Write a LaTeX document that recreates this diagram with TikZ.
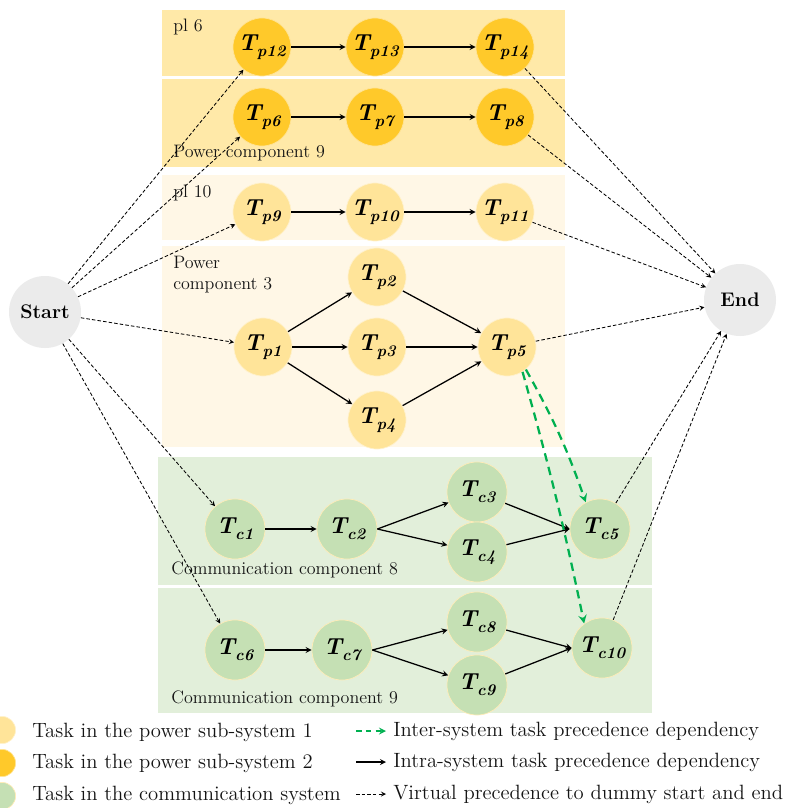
\documentclass[tikz,border=0pt]{standalone}
\usepackage{fontspec}
\usepackage{tikz}
\usepackage{xcolor}
\usetikzlibrary{positioning, arrows}

\definecolor{goldnode}{HTML}{FFC92A}
\definecolor{lightnode}{HTML}{FFE499}
\definecolor{greennode}{HTML}{C5E0B4}
\definecolor{dummygrey}{HTML}{EBEBEB}
\definecolor{boxdark}{HTML}{FFE9A8}
\definecolor{boxlight}{HTML}{FFF7E6}
\definecolor{boxgreen}{HTML}{E2EFDA}
\definecolor{interarrow}{HTML}{00B050}
\definecolor{textdark}{HTML}{141414}

% task label: bold italic T with subscript
\newcommand{\tlabel}[2]{{\fontsize{16.5}{18}\selectfont\bfseries\itshape T\raisebox{-4.5pt}{\fontsize{11.5}{12}\selectfont #1#2}}}

\begin{document}
\begin{tikzpicture}[
            x=0.025cm, y=-0.025cm,
            psys1/.style={circle, fill=lightnode, draw=lightnode!50!white, line width=0.5pt, minimum size=1.45cm, inner sep=0pt},
            psys2/.style={circle, fill=goldnode, draw=goldnode!50!white, line width=0.5pt, minimum size=1.45cm, inner sep=0pt},
            csys/.style={circle, fill=greennode, draw=lightnode!70!white, line width=0.5pt, minimum size=1.5cm, inner sep=0pt},
            dummy/.style={circle, fill=dummygrey, minimum size=1.8cm, inner sep=0pt, font=\fontsize{14}{15}\selectfont\bfseries},
            intra/.style={-stealth, line width=0.9pt},
            virtual/.style={-stealth, line width=0.6pt, dash pattern=on 2.5pt off 1.5pt},
            inter/.style={-stealth, interarrow, line width=1.6pt, dash pattern=on 6pt off 4pt},
            boxlabel/.style={anchor=west, inner sep=0pt, text=textdark, font=\fontsize{12.8}{15}\selectfont},
            legendtext/.style={anchor=west, inner sep=0pt, text=textdark, font=\fontsize{14.7}{16}\selectfont},
        ]
            \useasboundingbox (0,0) rectangle (788,808);

            % component boxes
            \fill[boxdark] (162,10) rectangle (565,76);
            \fill[boxdark] (162,79) rectangle (565,167);
            \fill[boxlight] (162,175) rectangle (565,240);
            \fill[boxlight] (162,246) rectangle (565,447);
            \fill[boxgreen] (158,457) rectangle (652,585);
            \fill[boxgreen] (158,588) rectangle (652,713);

            \node[boxlabel] (lbl6) at (173,27) {pl 6};
            \node[boxlabel] (lbl9) at (173,153) {Power component 9};
            \node[boxlabel] (lbl10) at (173,193) {pl 10};
            \node[boxlabel, align=left] (lbl3) at (173,275) {Power\\component 3};
            \node[boxlabel] (lblc8) at (171,570) {Communication component 8};
            \node[boxlabel] (lblc9) at (171,699) {Communication component 9};

            % dummy start and end
            \node[dummy] (start) at (45,312) {Start};
            \node[dummy] (end) at (740,300) {End};

            % power sub-system 2
            \node[psys2] (tp12) at (262,47) {\tlabel{p}{12}};
            \node[psys2] (tp13) at (375,47) {\tlabel{p}{13}};
            \node[psys2] (tp14) at (505,47) {\tlabel{p}{14}};
            \node[psys2] (tp6) at (262,117) {\tlabel{p}{6}};
            \node[psys2] (tp7) at (375,117) {\tlabel{p}{7}};
            \node[psys2] (tp8) at (505,117) {\tlabel{p}{8}};

            % power sub-system 1
            \node[psys1] (tp9) at (262,212) {\tlabel{p}{9}};
            \node[psys1] (tp10) at (375,212) {\tlabel{p}{10}};
            \node[psys1] (tp11) at (505,212) {\tlabel{p}{11}};
            \node[psys1] (tp1) at (263,347) {\tlabel{p}{1}};
            \node[psys1] (tp2) at (377,277) {\tlabel{p}{2}};
            \node[psys1] (tp3) at (377,347) {\tlabel{p}{3}};
            \node[psys1] (tp4) at (377,420) {\tlabel{p}{4}};
            \node[psys1] (tp5) at (507,347) {\tlabel{p}{5}};

            % communication system
            \node[csys] (tc1) at (235,529) {\tlabel{c}{1}};
            \node[csys] (tc2) at (347,529) {\tlabel{c}{2}};
            \node[csys] (tc3) at (477,492) {\tlabel{c}{3}};
            \node[csys] (tc4) at (477,552) {\tlabel{c}{4}};
            \node[csys] (tc5) at (600,529) {\tlabel{c}{5}};
            \node[csys] (tc6) at (235,650) {\tlabel{c}{6}};
            \node[csys] (tc7) at (342,650) {\tlabel{c}{7}};
            \node[csys] (tc8) at (477,622) {\tlabel{c}{8}};
            \node[csys] (tc9) at (477,685) {\tlabel{c}{9}};
            \node[csys] (tc10) at (602,648) {\tlabel{c}{10}};

            % intra-system precedence
            \draw[intra] (tp12) -- (tp13);
            \draw[intra] (tp13) -- (tp14);
            \draw[intra] (tp6) -- (tp7);
            \draw[intra] (tp7) -- (tp8);
            \draw[intra] (tp9) -- (tp10);
            \draw[intra] (tp10) -- (tp11);
            \draw[intra] (tp1) -- (tp2);
            \draw[intra] (tp1) -- (tp3);
            \draw[intra] (tp1) -- (tp4);
            \draw[intra] (tp2) -- (tp5);
            \draw[intra] (tp3) -- (tp5);
            \draw[intra] (tp4) -- (tp5);
            \draw[intra] (tc1) -- (tc2);
            \draw[intra] (tc2.east) -- (tc3);
            \draw[intra] (tc2.east) -- (tc4);
            \draw[intra] (tc3) -- (tc5.west);
            \draw[intra] (tc4) -- (tc5.west);
            \draw[intra] (tc6) -- (tc7);
            \draw[intra] (tc7.east) -- (tc8);
            \draw[intra] (tc7.east) -- (tc9);
            \draw[intra] (tc8) -- (tc10.west);
            \draw[intra] (tc9) -- (tc10.west);

            % virtual precedence
            \draw[virtual] (start) -- (tp12);
            \draw[virtual] (start) -- (tp6);
            \draw[virtual] (start) -- (tp9);
            \draw[virtual] (start) -- (tp1);
            \draw[virtual] (start) -- (tc1);
            \draw[virtual] (start) -- (tc6);
            \draw[virtual] (tp14) -- (end);
            \draw[virtual] (tp8) -- (end);
            \draw[virtual] (tp11) -- (end);
            \draw[virtual] (tp5) -- (end);
            \draw[virtual] (tc5) -- (end);
            \draw[virtual] (tc10) -- (end);

            % inter-system precedence
            \draw[inter] (tp5.-50) to[bend left=5] (tc5.118);
            \draw[inter] (tp5.-58) to[bend left=2] (tc10.126);

            % legend
            \node[psys1, minimum size=0.68cm] (leg1) at (2,730) {};
            \node[psys2, minimum size=0.68cm] (leg2) at (2,763) {};
            \node[csys, minimum size=0.68cm] (leg3) at (2,796) {};
            \node[legendtext] (legt1) at (32,732) {Task in the power sub-system 1};
            \node[legendtext] (legt2) at (32,763) {Task in the power sub-system 2};
            \node[legendtext] (legt3) at (32,795) {Task in the communication system};

            \coordinate (la1) at (356,731);
            \coordinate (lb1) at (386,731);
            \coordinate (la2) at (356,762);
            \coordinate (lb2) at (386,762);
            \coordinate (la3) at (356,794);
            \coordinate (lb3) at (386,794);
            \draw[inter, line width=1.2pt, dash pattern=on 4pt off 3pt] (la1) -- (lb1);
            \draw[intra] (la2) -- (lb2);
            \draw[virtual] (la3) -- (lb3);
            \node[legendtext] (legt4) at (393,731) {Inter-system task precedence dependency};
            \node[legendtext] (legt5) at (393,762) {Intra-system task precedence dependency};
            \node[legendtext] (legt6) at (393,794) {Virtual precedence to dummy start and end};
        \end{tikzpicture}
\end{document}
